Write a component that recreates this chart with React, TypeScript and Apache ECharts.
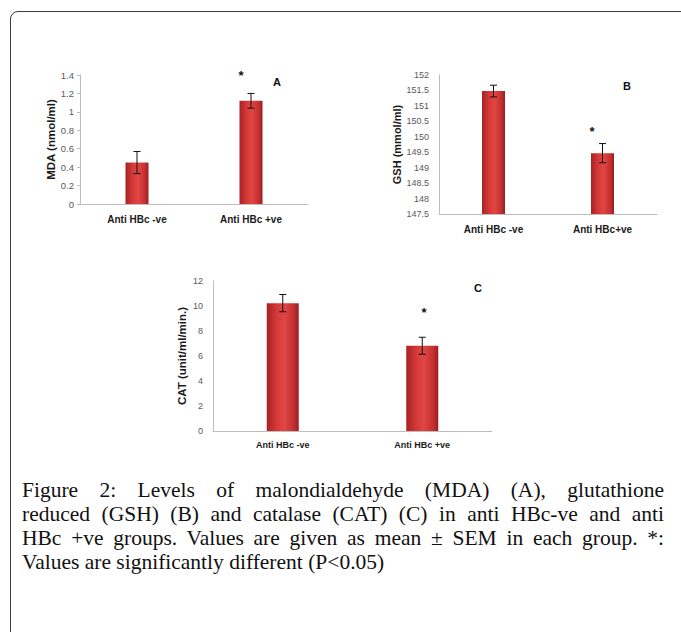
import React, { useEffect, useRef } from "react";
import * as echarts from "echarts";

const categoriesA = ["Anti HBc -ve", "Anti HBc +ve"];
const categoriesB = ["Anti HBc -ve", "Anti HBc+ve"];
const categoriesC = ["Anti HBc -ve", "Anti HBc +ve"];

const mdaMean = [0.45, 1.12];
const mdaSem = [0.12, 0.08];
const gshMean = [151.48, 149.47];
const gshSem = [0.19, 0.31];
const catMean = [10.23, 6.82];
const catSem = [0.69, 0.68];

const yNames = ["MDA (nmol/ml)", "GSH (mmol/ml)", "CAT (unit/ml/min.)"];
const panelLetters = ["A", "B", "C"];

const captionLines = [
  "Figure 2: Levels of malondialdehyde (MDA) (A), glutathione",
  "reduced (GSH) (B) and catalase (CAT) (C) in anti HBc-ve and anti",
  "HBc +ve groups. Values are given as mean ± SEM in each group. *:",
  "Values are significantly different (P<0.05)",
];

const barColor = {
  type: "linear",
  x: 0,
  y: 0,
  x2: 1,
  y2: 0,
  colorStops: [
    { offset: 0, color: "#a82224" },
    { offset: 0.35, color: "#d83c3a" },
    { offset: 0.55, color: "#e04644" },
    { offset: 0.85, color: "#c22f2f" },
    { offset: 1, color: "#9a1e20" },
  ],
};

const errData = (mean: number[], sem: number[]) =>
  mean.map((m, i) => [i, m - sem[i], m + sem[i]]);

const renderErr = (params: any, api: any) => {
  const x = api.value(0);
  const lo = api.coord([x, api.value(1)]);
  const hi = api.coord([x, api.value(2)]);
  const hw = 3.5;
  const st = { stroke: "#111", lineWidth: 1 };
  return {
    type: "group",
    children: [
      { type: "line", shape: { x1: hi[0], y1: hi[1], x2: lo[0], y2: lo[1] }, style: st },
      { type: "line", shape: { x1: hi[0] - hw, y1: hi[1], x2: hi[0] + hw, y2: hi[1] }, style: st },
      { type: "line", shape: { x1: lo[0] - hw, y1: lo[1], x2: lo[0] + hw, y2: lo[1] }, style: st },
    ],
  };
};

const FONT = "Liberation Sans";

export default function App() {
  const ref = useRef<HTMLDivElement>(null);

  useEffect(() => {
    if (!ref.current) return;
    const chart = echarts.init(ref.current, undefined, { renderer: "svg" });

    const xAx = (grid: number, data: string[], size: number, margin: number) => ({
      type: "category",
      gridIndex: grid,
      data,
      axisLine: { show: true, lineStyle: { color: "#bdbdbd", width: 1 } },
      axisTick: { show: false },
      axisLabel: { fontFamily: FONT, fontWeight: "bold", fontSize: size, color: "#1a1a1a", margin },
      splitLine: { show: false },
    });

    const yAx = (
      grid: number,
      min: number,
      max: number,
      interval: number,
      name: string,
      nameSize: number,
      nameGap: number,
      labelSize: number,
      margin: number,
      ticks: boolean,
      digits: number
    ) => ({
      type: "value",
      gridIndex: grid,
      min,
      max,
      interval,
      startValue: min,
      name,
      nameLocation: "middle",
      nameRotate: 90,
      nameGap,
      nameTextStyle: { fontFamily: FONT, fontWeight: "bold", fontSize: nameSize, color: "#1a1a1a" },
      axisLine: { show: true, lineStyle: { color: "#bdbdbd", width: 1 } },
      axisTick: { show: ticks, length: 3, lineStyle: { color: "#bdbdbd" } },
      axisLabel: {
        fontFamily: FONT,
        fontSize: labelSize,
        color: "#595959",
        margin,
        formatter: (v: number) => String(parseFloat(v.toFixed(digits))),
      },
      splitLine: { show: false },
    });

    const barS = (idx: number, data: number[], width: number) => ({
      type: "bar",
      xAxisIndex: idx,
      yAxisIndex: idx,
      data,
      barWidth: width,
      clip: true,
      itemStyle: { color: barColor },
    });

    const errS = (idx: number, mean: number[], sem: number[]) => ({
      type: "custom",
      xAxisIndex: idx,
      yAxisIndex: idx,
      data: errData(mean, sem),
      encode: { x: 0, y: [1, 2] },
      renderItem: renderErr,
      z: 5,
      clip: false,
    });

    const txt = (text: string, x: number, y: number, size: number) => ({
      type: "text",
      x,
      y,
      style: {
        text,
        fontFamily: FONT,
        fontWeight: "bold",
        fontSize: size,
        fill: "#111",
        align: "center",
        verticalAlign: "middle",
      },
    });

    chart.setOption({
      animation: false,
      backgroundColor: "transparent",
      grid: [
        { left: 80, top: 75, width: 228, height: 129 },
        { left: 439, top: 75, width: 218, height: 139 },
        { left: 213, top: 281, width: 279, height: 150 },
      ],
      xAxis: [xAx(0, categoriesA, 10, 10), xAx(1, categoriesB, 10, 10), xAx(2, categoriesC, 9, 9)],
      yAxis: [
        yAx(0, 0, 1.4, 0.2, yNames[0], 11.5, 21, 9.5, 6, true, 1),
        yAx(1, 147.5, 152, 0.5, yNames[1], 11, 36, 9, 10, false, 1),
        yAx(2, 0, 12, 2, yNames[2], 11.5, 25, 9, 10, false, 0),
      ],
      series: [
        barS(0, mdaMean, 23),
        errS(0, mdaMean, mdaSem),
        barS(1, gshMean, 23),
        errS(1, gshMean, gshSem),
        barS(2, catMean, 32),
        errS(2, catMean, catSem),
      ],
      graphic: [
        txt("*", 241, 75, 13),
        txt(panelLetters[0], 277, 82, 11),
        txt("*", 592, 131, 13),
        txt(panelLetters[1], 627, 86, 11),
        txt("*", 424, 312, 13),
        txt(panelLetters[2], 478, 288, 11),
      ],
    });

    return () => chart.dispose();
  }, []);

  return (
    <div
      style={{
        position: "absolute",
        left: 0,
        top: 0,
        width: 681,
        height: 632,
        overflow: "hidden",
        background: "#fff",
      }}
    >
      <div
        style={{
          position: "absolute",
          left: 10,
          top: 11,
          width: 760,
          height: 760,
          border: "1.5px solid #3c3c3c",
          borderTopLeftRadius: 8,
          boxSizing: "border-box",
        }}
      />
      <div ref={ref} style={{ position: "absolute", left: 0, top: 0, width: 681, height: 470 }} />
      <div
        style={{
          position: "absolute",
          left: 22,
          top: 478,
          width: 642,
          fontFamily: "'Liberation Serif', serif",
          fontSize: 21.5,
          lineHeight: "24px",
          color: "#111",
        }}
      >
        {captionLines.map((line, i) => (
          <div
            key={i}
            style={{
              whiteSpace: "nowrap",
              textAlign: i < captionLines.length - 1 ? "justify" : "left",
              textAlignLast: i < captionLines.length - 1 ? "justify" : "left",
            }}
          >
            {line}
          </div>
        ))}
      </div>
    </div>
  );
}
